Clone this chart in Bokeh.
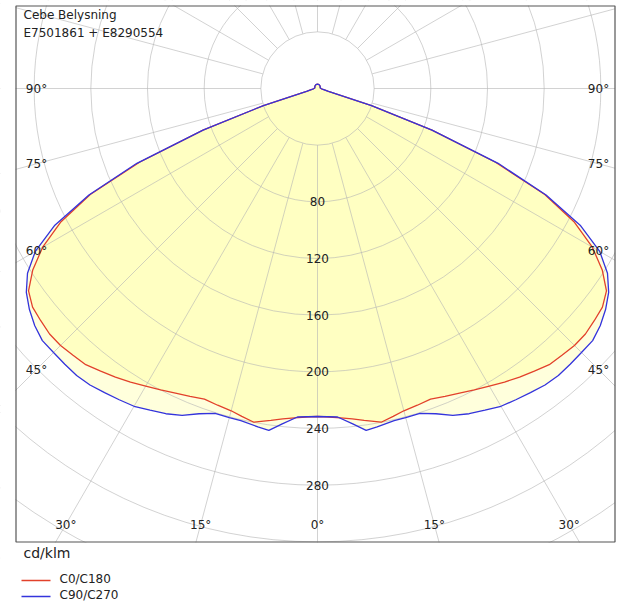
import numpy as np
from bokeh.plotting import figure
from bokeh.models import Range1d
from bokeh.core.properties import value
from bokeh.embed import file_html
from bokeh.resources import INLINE

# ---------------- data (cd/klm) ----------------
c0_gamma = [0, 2, 4, 6, 8, 10.8, 13, 15, 17.5, 20, 22.5, 25, 27.5, 30, 32.5, 35,
            37.5, 40, 42.5, 45, 47.5, 50, 52.5, 55, 57.5, 60, 62.5, 65, 67.5, 70,
            72.5, 75, 80, 85, 90, 100, 110, 120, 135, 150, 165, 180]
c0_int = [231.5, 232, 233, 234.5, 236.5, 239.8, 237.5, 235.5, 234.4, 233.3, 235.2,
          237.2, 239.8, 242.5, 245.7, 248.7, 251.4, 254.5, 255.4, 256.5, 256.5, 255,
          253.5, 249, 238.3, 224, 204.5, 177, 136, 86, 40, 8, 4, 3, 2.5, 2, 2, 2.2,
          2.5, 2.8, 3, 3]
c90_gamma = [0, 3.5, 6, 8.1, 10, 13, 15, 17.5, 20, 22.5, 25, 27.5, 30, 32.5, 35,
             37.5, 40, 42.5, 45, 47.5, 50, 52.5, 55, 57.5, 60, 62.5, 65, 67.5, 70,
             72.5, 75, 80, 85, 90, 100, 110, 120, 135, 150, 165, 180]
c90_int = [231.5, 232.3, 238, 243.8, 242.5, 240.6, 240.5, 240.4, 244.3, 249.7, 253.3,
           256, 259, 260.5, 262, 263.8, 264.5, 264, 263.5, 263.4, 260.5, 256.3, 250.9,
           242.7, 230, 209, 178, 138, 86, 40, 8, 4, 3, 2.5, 2, 2, 2.2, 2.5, 2.8, 3, 3]

ring_values = [40, 80, 120, 160, 200, 240, 280, 320, 360, 400]
ring_labels = [80, 120, 160, 200, 240, 280]
ray_angles = list(range(0, 360, 15))
angle_labels = [0, 15, 30, 45, 60, 75, 90]
series_names = ["C0/C180", "C90/C270"]
unit_label = "cd/klm"
title_lines = ["Cebe Belysning", "E7501861 + E8290554"]

# ---------------- layout ----------------
S = 56.67 / 40.0          # px per cd/klm
W, H = 627, 605
CX, CY = 317, 88          # pole position in px


def X(px):
    return (px - CX) / S


def Y(py):
    return (CY - py) / S


p = figure(width=W, height=H, output_backend="svg", toolbar_location=None,
           x_range=Range1d(-CX / S, (W - CX) / S),
           y_range=Range1d(-(H - CY) / S, CY / S),
           x_axis_location=None, y_axis_location=None, min_border=0)
p.grid.visible = False
p.outline_line_color = None
p.background_fill_color = "white"
p.border_fill_color = "white"


def outline(g, v):
    g = np.radians(np.array(g, dtype=float))
    v = np.array(v, dtype=float)
    xl = -v * np.sin(g)
    yy = -v * np.cos(g)
    xs = np.concatenate([xl, -xl[::-1]])
    ys = np.concatenate([yy, yy[::-1]])
    return xs, ys


x0, y0 = outline(c0_gamma, c0_int)
x90, y90 = outline(c90_gamma, c90_int)

RED = "#E2412B"
BLUE = "#3434DC"

# fills
p.patch(x90, y90, fill_color="#FFFFDC", line_color=None)
p.patch(x0, y0, fill_color="#FFFFC2", line_color=None)

# grid
GRID = "#B4B4B4"
p.circle(x=[0] * len(ring_values), y=[0] * len(ring_values), radius=ring_values,
         fill_color=None, line_color=GRID, line_alpha=0.6, line_width=1)
ang = np.radians(ray_angles)
r_in, r_out = ring_values[0], 600
p.segment(x0=r_in * np.sin(ang), y0=-r_in * np.cos(ang),
          x1=r_out * np.sin(ang), y1=-r_out * np.cos(ang),
          line_color=GRID, line_alpha=0.6, line_width=1)

# curves
p.line(x0, y0, line_color=RED, line_width=1.3)
p.line(x90, y90, line_color=BLUE, line_width=1.3)

# white masks outside the frame
BIG = 2000
p.quad(left=[-BIG, X(614.5), -BIG], right=[X(15), BIG, BIG],
       top=[BIG, BIG, Y(542)], bottom=[-BIG, -BIG, -BIG],
       fill_color="white", line_color=None)
p.quad(left=[-BIG], right=[BIG], top=[BIG], bottom=[Y(5)],
       fill_color="white", line_color=None)
# frame
p.quad(left=[X(15.5)], right=[X(614.5)], top=[Y(5.5)], bottom=[Y(541.5)],
       fill_color=None, line_color="#555555", line_width=1.2)

FONT = value("DejaVu Sans")
TXT = "#222222"

# radial value labels
p.text(x=[0] * len(ring_labels), y=[-v for v in ring_labels],
       text=[str(v) for v in ring_labels], text_font=FONT, text_font_size="12px",
       text_align="center", text_baseline="middle", text_color=TXT)

# angle labels, placed where each ray meets an inset rectangle
x_in = 281 / S
y_in = 436 / S
lx, ly, lt = [], [], []
for a in angle_labels:
    sides = [1] if a == 0 else [-1, 1]
    ra = np.radians(a)
    for sg in sides:
        cands = []
        if np.sin(ra) > 1e-9:
            cands.append(x_in / np.sin(ra))
        if np.cos(ra) > 1e-9:
            cands.append(y_in / np.cos(ra))
        t = min(cands)
        lx.append(sg * t * np.sin(ra))
        ly.append(-t * np.cos(ra))
        lt.append(f"{a}°")
p.text(x=lx, y=ly, text=lt, text_font=FONT, text_font_size="12px",
       text_align="center", text_baseline="middle", text_color=TXT)

# title lines
p.text(x=[X(23), X(23)], y=[Y(14), Y(32.5)], text=title_lines, text_font=FONT,
       text_font_size="12px", text_align="left", text_baseline="middle",
       text_color=TXT)

# unit + legend
p.text(x=[X(23)], y=[Y(552)], text=[unit_label], text_font=FONT,
       text_font_size="14px", text_align="left", text_baseline="middle",
       text_color=TXT)
p.segment(x0=[X(21), X(21)], y0=[Y(580), Y(596)], x1=[X(50), X(50)],
          y1=[Y(580), Y(596)], line_color=[RED, BLUE], line_width=1.5)
p.text(x=[X(59), X(59)], y=[Y(578), Y(594.5)], text=series_names, text_font=FONT,
       text_font_size="12px", text_align="left", text_baseline="middle",
       text_color=TXT)

open("out.html", "w").write(file_html(p, INLINE))
